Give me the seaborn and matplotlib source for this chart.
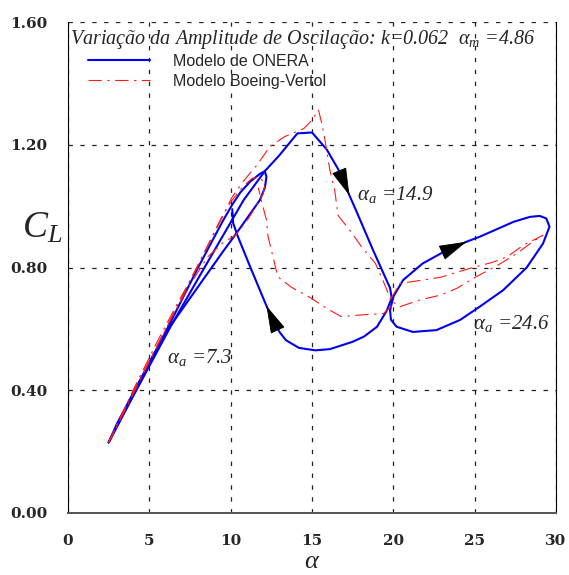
import matplotlib
matplotlib.use("Agg")
import matplotlib.pyplot as plt
from matplotlib.lines import Line2D
import seaborn as sns
import pandas as pd

# --- data (alpha in deg, CL) ---
onera_1_alpha = [2.5, 4.0, 6.0, 8.0, 9.5, 10.1, 10.6, 11.2, 11.8, 12.1, 12.2, 12.1, 11.8, 11.0,
                 10.4, 9.5, 8.5, 7.5, 6.3, 5.2, 4.0, 3.0, 2.5]
onera_1_cl = [0.23, 0.385, 0.59, 0.80, 0.95, 1.005, 1.045, 1.08, 1.105, 1.114, 1.095, 1.06, 1.02, 0.96,
              0.915, 0.85, 0.775, 0.70, 0.61, 0.51, 0.39, 0.29, 0.23]

onera_2_alpha = [2.5, 4.0, 6.3, 8.5, 10.8, 12.1, 13.0, 14.1, 15.0, 15.9, 16.7, 17.3, 17.7, 18.75, 19.8,
                 19.9, 19.6, 19.0, 18.2, 17.5, 16.1, 15.2, 14.2, 13.4, 13.0, 12.6, 12.2, 11.2, 10.45,
                 10.15, 10.1]
onera_2_cl = [0.23, 0.38, 0.607, 0.81, 1.02, 1.114, 1.166, 1.237, 1.24, 1.185, 1.112, 1.035, 0.987, 0.857,
              0.733, 0.70, 0.66, 0.607, 0.575, 0.558, 0.534, 0.53, 0.538, 0.563, 0.59, 0.629, 0.675,
              0.802, 0.90, 0.945, 0.99]

onera_3_alpha = [19.8, 20.0, 20.6, 21.8, 23.1, 24.5, 25.3, 27.4, 28.4, 29.0, 29.4, 29.6, 29.2, 28.2,
                 26.75, 25.3, 24.1, 22.65, 21.2, 20.2, 19.85, 19.8]
onera_3_cl = [0.661, 0.705, 0.759, 0.813, 0.851, 0.884, 0.90, 0.949, 0.965, 0.968, 0.96, 0.933, 0.878,
              0.80, 0.726, 0.672, 0.629, 0.596, 0.59, 0.607, 0.63, 0.661]

boeing_1_alpha = [2.5, 4.0, 5.5, 6.7, 7.9, 8.8, 9.5, 10.1, 10.7, 11.3, 11.8, 12.1, 12.0, 11.1, 10.3,
                  9.5, 8.6, 7.5, 6.3, 4.5, 2.5]
boeing_1_cl = [0.23, 0.40, 0.56, 0.68, 0.795, 0.895, 0.97, 1.02, 1.06, 1.09, 1.095, 1.07, 1.04, 0.96,
               0.905, 0.88, 0.835, 0.745, 0.63, 0.44, 0.23]

boeing_2_alpha = [2.5, 4.0, 6.0, 8.0, 9.5, 10.06, 10.76, 11.6, 12.4, 13.3, 14.5, 15.0, 15.4, 15.6, 15.8,
                  16.1, 16.4, 16.6, 17.4, 18.05, 18.9, 19.4, 19.8, 19.9, 19.4, 17.9, 16.8, 15.9, 14.8,
                  13.75, 12.9, 12.6, 12.3, 12.2, 11.9, 11.7]
boeing_2_cl = [0.23, 0.395, 0.60, 0.81, 0.965, 1.027, 1.08, 1.133, 1.193, 1.226, 1.253, 1.28, 1.313, 1.27,
               1.215, 1.117, 1.05, 0.97, 0.916, 0.867, 0.813, 0.753, 0.70, 0.675, 0.65, 0.645, 0.64,
               0.667, 0.705, 0.735, 0.77, 0.835, 0.90, 0.955, 1.015, 1.06]

boeing_3_alpha = [19.8, 20.4, 21.8, 22.9, 24.0, 24.9, 26.1, 27.0, 28.0, 29.2, 28.6, 27.6, 26.5, 25.1,
                  23.9, 22.9, 21.6, 20.4, 19.8]
boeing_3_cl = [0.694, 0.748, 0.759, 0.768, 0.786, 0.80, 0.817, 0.835, 0.873, 0.905, 0.885, 0.846, 0.81,
               0.77, 0.732, 0.71, 0.694, 0.672, 0.694]

model_labels = ["Modelo de ONERA", "Modelo Boeing-Vertol"]
title_text = "Variação da Amplitude de Oscilação: k=0.062  $\\alpha_{\\mathit{m}}$ =4.86"
x_ticks = [0, 5, 10, 15, 20, 25, 30]
y_ticks = [0.0, 0.4, 0.8, 1.2, 1.6]


def build_frame():
    rows = []
    loops = [("ONERA", "o1", onera_1_alpha, onera_1_cl),
             ("ONERA", "o2", onera_2_alpha, onera_2_cl),
             ("ONERA", "o3", onera_3_alpha, onera_3_cl),
             ("Boeing", "b1", boeing_1_alpha, boeing_1_cl),
             ("Boeing", "b2", boeing_2_alpha, boeing_2_cl),
             ("Boeing", "b3", boeing_3_alpha, boeing_3_cl)]
    for model, loop, xs, ys in loops:
        for a, c in zip(xs, ys):
            rows.append({"model": model, "loop": loop, "alpha": a, "cl": c})
    return pd.DataFrame(rows)


def draw_arrow(ax, xs, ys, i):
    # filled black head on the curve, pointing along the travel direction
    tip = (xs[i], ys[i])
    prev = (xs[i - 1], ys[i - 1])
    tail = (tip[0] - 0.05 * (tip[0] - prev[0]), tip[1] - 0.05 * (tip[1] - prev[1]))
    ax.annotate("", xy=tip, xytext=tail,
                arrowprops=dict(arrowstyle="-|>,head_length=1.8,head_width=0.5",
                                mutation_scale=10, fc="k", ec="k", lw=0.6,
                                shrinkA=0, shrinkB=0))


sns.set_style("white")
plt.rcParams["mathtext.fontset"] = "custom"
plt.rcParams["mathtext.rm"] = "Liberation Serif"
plt.rcParams["mathtext.it"] = "Liberation Serif:italic"
plt.rcParams["mathtext.default"] = "regular"

df = build_frame()

fig = plt.figure(figsize=(5.69, 5.75), dpi=100)
ax = fig.add_axes([68 / 569, 62 / 575, 488 / 569, 491 / 575])

sns.lineplot(data=df[df.model == "ONERA"], x="alpha", y="cl", units="loop", estimator=None,
             sort=False, color="#0000ee", lw=1.5, ax=ax, legend=False)
sns.lineplot(data=df[df.model == "Boeing"], x="alpha", y="cl", units="loop", estimator=None,
             sort=False, color="#ff1a1a", lw=0.8, linestyle=(0, (12, 5, 2, 5)), ax=ax, legend=False)

ax.set_xlim(0, 30)
ax.set_ylim(0, 1.6)
ax.set_xticks(x_ticks)
ax.set_xticklabels([str(t) for t in x_ticks])
ax.set_yticks(y_ticks)
ax.set_yticklabels([f"{t:.2f}" for t in y_ticks])
ax.grid(True, color="#222222", lw=0.9, linestyle=(0, (3.5, 6)))
ax.set_axisbelow(True)
ax.tick_params(direction="out", length=12, width=1, color="black", pad=3)
for lab in ax.get_xticklabels() + ax.get_yticklabels():
    lab.set_fontfamily("DejaVu Serif")
    lab.set_fontweight("bold")
    lab.set_fontsize(11)

ax.spines["top"].set_visible(False)
ax.spines["left"].set_color("black")
ax.spines["right"].set_color("black")
ax.spines["bottom"].set_color("#555555")
ax.spines["bottom"].set_linewidth(1.4)
ax.set_xlabel("")
ax.set_ylabel("")

# arrows showing the direction of the loops
draw_arrow(ax, onera_2_alpha, onera_2_cl, 11)
draw_arrow(ax, onera_2_alpha, onera_2_cl, 26)
draw_arrow(ax, onera_3_alpha, onera_3_cl, 5)

serif_it = dict(family="Liberation Serif", style="italic")
ax.text(0.005, 0.988, title_text, transform=ax.transAxes, va="top", ha="left",
        fontsize=14.5, **serif_it)
ax.text(6.1, 0.49, "$\\alpha_{\\mathit{a}}$ =7.3", fontsize=15, **serif_it)
ax.text(17.75, 1.02, "$\\alpha_{\\mathit{a}}$ =14.9", fontsize=15, **serif_it)
ax.text(24.9, 0.60, "$\\alpha_{\\mathit{a}}$ =24.6", fontsize=15, **serif_it)

fig.text(22 / 569, 1 - 228 / 575, "$\\mathit{C}_{\\mathit{L}}$", fontsize=27, va="center",
         ha="left", **serif_it)
fig.text(312 / 569, 2 / 575, "$\\mathit{\\alpha}$", fontsize=19, va="bottom",
         ha="center", **serif_it)

handles = [Line2D([], [], color="#0000ee", lw=1.5),
           Line2D([], [], color="#ff1a1a", lw=0.8, linestyle=(0, (12, 5, 2, 5)))]
ax.legend(handles, model_labels, loc="upper left", bbox_to_anchor=(0.041, 0.935),
          frameon=False, borderaxespad=0, borderpad=0, handlelength=3.9,
          handletextpad=1.4, labelspacing=0.3,
          prop={"family": "Liberation Sans", "size": 11.5})

fig.savefig("out.png", dpi=100)
